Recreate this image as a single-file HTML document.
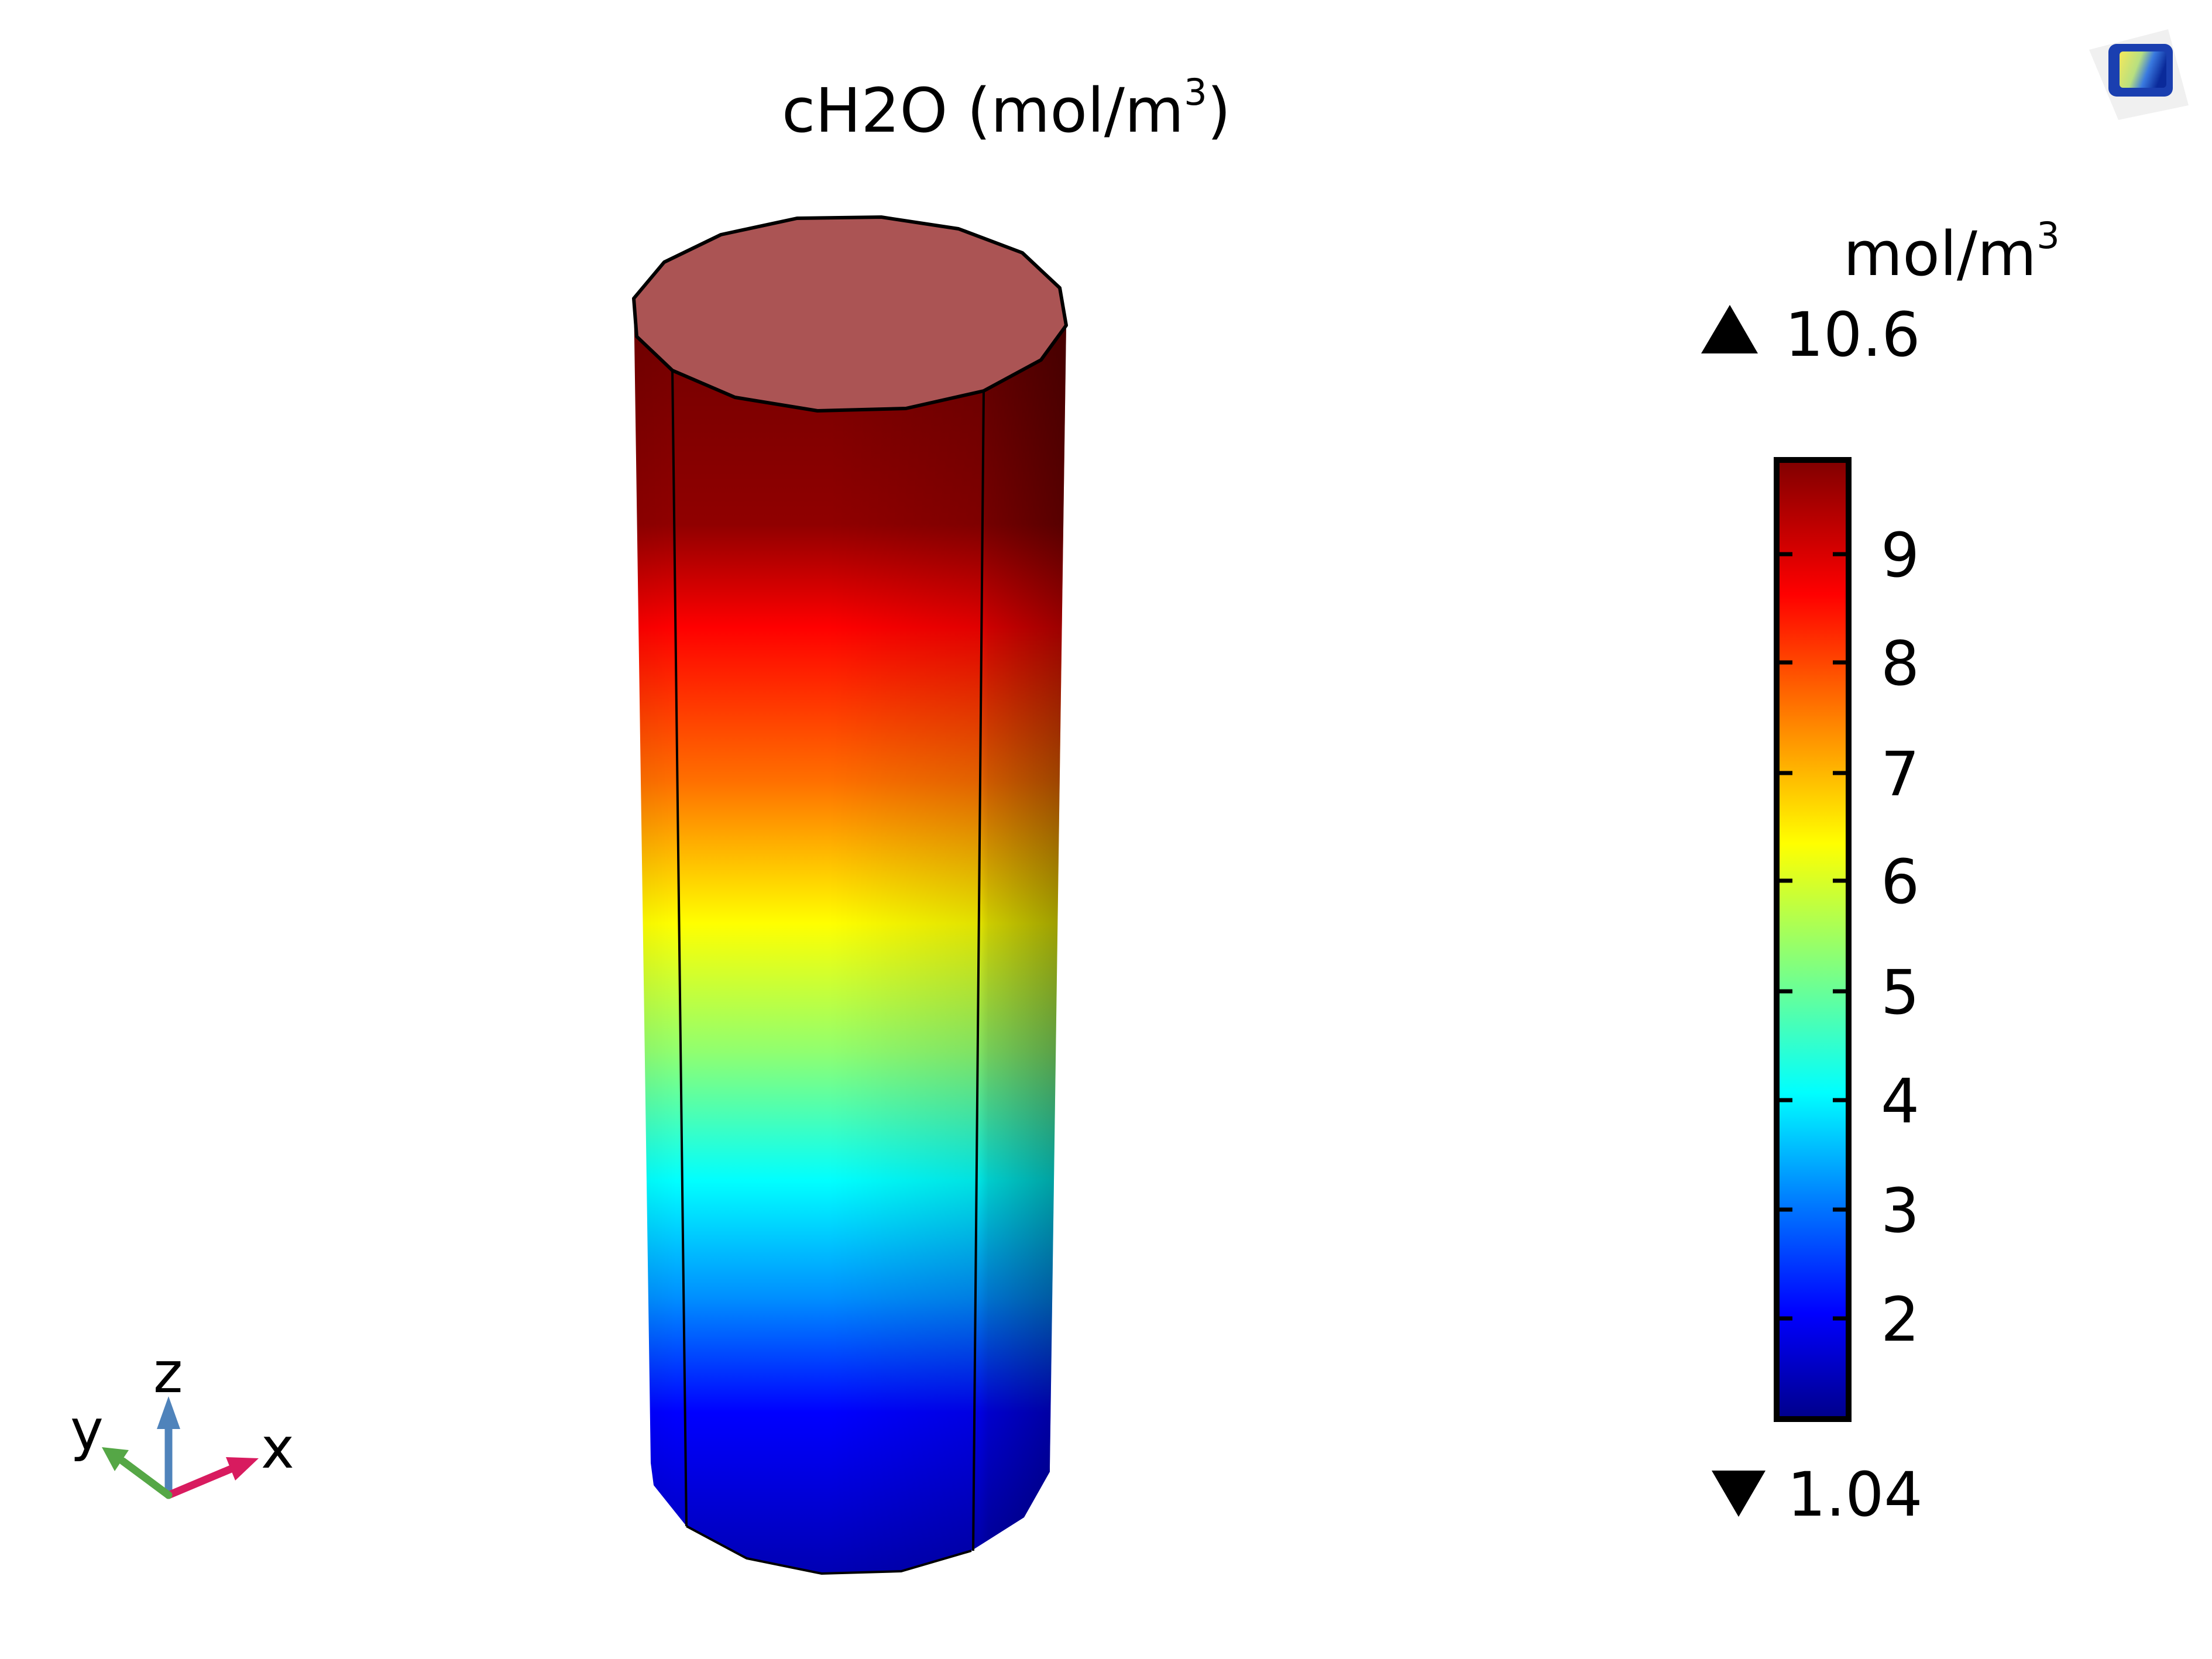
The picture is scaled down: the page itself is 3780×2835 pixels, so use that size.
<!DOCTYPE html>
<html><head><meta charset="utf-8"><style>html,body{margin:0;padding:0;background:#fff}svg{display:block}</style></head>
<body>
<svg width="3780" height="2835" viewBox="0 0 3780 2835" xmlns="http://www.w3.org/2000/svg" font-family="'DejaVu Sans','Liberation Sans',sans-serif">
<defs>
<linearGradient id="bodyg" gradientUnits="userSpaceOnUse" x1="0" y1="500" x2="0" y2="2700">
<stop offset="0" stop-color="#6e0000"/>
<stop offset="0.18" stop-color="#900000"/>
<stop offset="0.26" stop-color="#ff0000"/>
<stop offset="0.38" stop-color="#ff7000"/>
<stop offset="0.49" stop-color="#ffff00"/>
<stop offset="0.59" stop-color="#90ff70"/>
<stop offset="0.69" stop-color="#00ffff"/>
<stop offset="0.78" stop-color="#0090ff"/>
<stop offset="0.87" stop-color="#0000ff"/>
<stop offset="1" stop-color="#0000b0"/>
</linearGradient>
<linearGradient id="shade" gradientUnits="userSpaceOnUse" x1="1083" y1="0" x2="1822" y2="0">
<stop offset="0" stop-color="#000" stop-opacity="0.05"/>
<stop offset="0.1" stop-color="#000" stop-opacity="0"/>
<stop offset="0.45" stop-color="#000" stop-opacity="0"/>
<stop offset="0.8" stop-color="#000" stop-opacity="0.12"/>
<stop offset="0.82" stop-color="#000" stop-opacity="0.2"/>
<stop offset="1" stop-color="#000" stop-opacity="0.4"/>
</linearGradient>
<linearGradient id="cbar" x1="0" y1="0" x2="0" y2="1">
<stop offset="0" stop-color="#800000"/>
<stop offset="0.14" stop-color="#ff0000"/>
<stop offset="0.27" stop-color="#ff8000"/>
<stop offset="0.40" stop-color="#ffff00"/>
<stop offset="0.53" stop-color="#80ff80"/>
<stop offset="0.66" stop-color="#00ffff"/>
<stop offset="0.77" stop-color="#0080ff"/>
<stop offset="0.89" stop-color="#0000ff"/>
<stop offset="1" stop-color="#00008a"/>
</linearGradient>
<linearGradient id="logo" x1="0" y1="0" x2="1" y2="0.3">
<stop offset="0" stop-color="#f5e85a"/>
<stop offset="0.45" stop-color="#b8e080"/>
<stop offset="0.7" stop-color="#3a7ae0"/>
<stop offset="1" stop-color="#0a2a9a"/>
</linearGradient>
</defs>

<text x="1336" y="225" font-size="104" fill="#000">cH2O (mol/m<tspan font-size="62" dy="-46">3</tspan><tspan dy="46">)</tspan></text>

<path d="M1083,510 L1822,556 L1794,2507 L1794,2515 L1750,2593 L1660,2650 L1540,2685 L1404,2689 L1276,2663 L1173,2608 L1117,2538 L1112,2500 Z" fill="url(#bodyg)"/>
<path d="M1083,510 L1822,556 L1794,2507 L1794,2515 L1750,2593 L1660,2650 L1540,2685 L1404,2689 L1276,2663 L1173,2608 L1117,2538 L1112,2500 Z" fill="url(#shade)"/>
<path d="M1173,2608 L1276,2663 L1404,2689 L1540,2685 L1660,2650" fill="none" stroke="#000" stroke-width="4"/>
<line x1="1149" y1="633" x2="1173" y2="2608" stroke="#000" stroke-width="4"/>
<line x1="1681" y1="668" x2="1663" y2="2650" stroke="#000" stroke-width="4"/>
<polygon points="1362,373 1506,371 1638,391 1747,432 1811,492 1822,556 1779,615 1681,668 1548,698 1397,702 1256,679 1149,633 1088,575 1083,510 1135,448 1232,401" fill="#ab5454" stroke="#000" stroke-width="6" stroke-linejoin="round"/>

<text x="3150" y="470" font-size="104" fill="#000">mol/m<tspan font-size="62" dy="-46">3</tspan></text>
<polygon points="2907,604 3004,604 2956,521" fill="#000"/>
<text x="3050" y="608" font-size="104" fill="#000">10.6</text>
<rect x="3036" y="786" width="123" height="1639" fill="url(#cbar)" stroke="#000" stroke-width="10"/>
<g stroke="#000" stroke-width="7">
<path d="M3041,947h22M3154,947h-22 M3041,1132h22M3154,1132h-22 M3041,1321h22M3154,1321h-22 M3041,1505h22M3154,1505h-22 M3041,1694h22M3154,1694h-22 M3041,1880h22M3154,1880h-22 M3041,2067h22M3154,2067h-22 M3041,2253h22M3154,2253h-22"/>
</g>
<g font-size="104" fill="#000">
<text x="3214" y="985">9</text>
<text x="3214" y="1170">8</text>
<text x="3214" y="1359">7</text>
<text x="3214" y="1543">6</text>
<text x="3214" y="1732">5</text>
<text x="3214" y="1918">4</text>
<text x="3214" y="2105">3</text>
<text x="3214" y="2291">2</text>
</g>
<polygon points="2925,2513 3017,2513 2971,2592" fill="#000"/>
<text x="3054" y="2590" font-size="104" fill="#000">1.04</text>

<g stroke-width="13" stroke-linecap="round">
<line x1="288" y1="2555" x2="288" y2="2430" stroke="#4f83bb"/>
<line x1="288" y1="2555" x2="395" y2="2510" stroke="#d81b5f"/>
<line x1="288" y1="2555" x2="210" y2="2497" stroke="#55a746"/>
</g>
<polygon points="288,2386 308,2442 268,2442" fill="#4f83bb"/>
<polygon points="442,2492 386,2490 402,2530" fill="#d81b5f"/>
<polygon points="174,2473 220,2478 196,2514" fill="#55a746"/>
<g font-size="96" fill="#000">
<text x="262" y="2379">z</text>
<text x="446" y="2508">x</text>
<text x="120" y="2477">y</text>
</g>

<polygon points="3570,85 3705,50 3740,180 3620,205" fill="#ececec" opacity="0.8"/>
<rect x="3603" y="75" width="110" height="90" rx="14" fill="#1a3fb0"/>
<rect x="3622" y="88" width="80" height="62" rx="6" fill="url(#logo)"/>
</svg>
</body></html>
